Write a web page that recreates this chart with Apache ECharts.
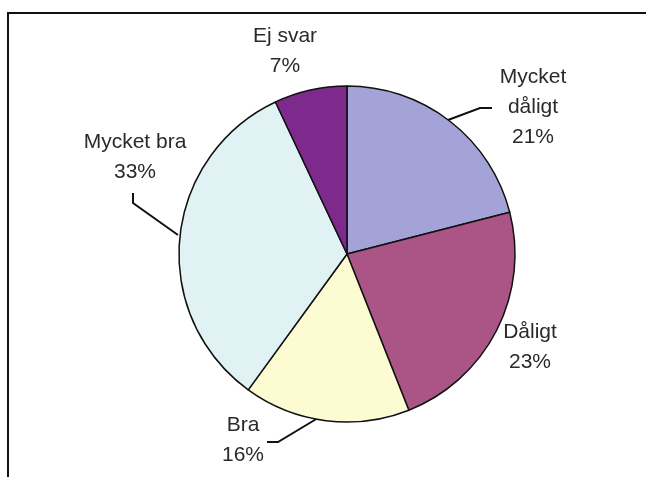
<!DOCTYPE html>
<html>
<head>
<meta charset="utf-8">
<script src="https://cdn.jsdelivr.net/npm/echarts@6/dist/echarts.min.js"></script>
<style>
html,body{margin:0;padding:0;background:#fff;}
#chart{width:646px;height:477px;}
</style>
</head>
<body>
<div id="chart"></div>
<script>
const categories = ['Mycket dåligt', 'Dåligt', 'Bra', 'Mycket bra', 'Ej svar'];
const values = [21, 23, 16, 33, 7];
const colors = ['#a3a3d8', '#aa5585', '#fdfbd2', '#e1f2f4', '#7e2a8c'];

// label layout (positions only)
const labelPos = [
  {x: 533, y: 107, line: [[448, 120], [480, 108], [492, 108]]},
  {x: 530, y: 347, line: null},
  {x: 243, y: 440, line: [[318, 418], [278, 442], [267, 442]]},
  {x: 135, y: 157, line: [[178, 235], [133, 203], [133, 193]]},
  {x: 285, y: 51, line: null}
];

const chart = echarts.init(document.getElementById('chart'), null, {renderer: 'canvas'});
chart.setOption({
  backgroundColor: '#ffffff',
  animation: false,
  graphic: [
    {type: 'line', shape: {x1: 7, y1: 13, x2: 646, y2: 13}, style: {stroke: '#111', lineWidth: 2}},
    {type: 'line', shape: {x1: 8, y1: 12, x2: 8, y2: 477}, style: {stroke: '#111', lineWidth: 2}}
  ],
  series: [{
    type: 'pie',
    center: [347, 254],
    radius: 168,
    startAngle: 90,
    clockwise: true,
    avoidLabelOverlap: false,
    itemStyle: {borderColor: '#111', borderWidth: 1.5},
    label: {
      show: true,
      formatter: p => (p.name === 'Mycket dåligt' ? 'Mycket\ndåligt' : p.name) + '\n' + p.value + '%',
      fontFamily: 'Liberation Sans, Arial, sans-serif',
      fontSize: 21,
      lineHeight: 30,
      color: '#2a2a2a',
      align: 'center'
    },
    labelLine: {show: true, lineStyle: {color: '#111', width: 2}},
    labelLayout: function (params) {
      const lp = labelPos[params.dataIndex];
      const o = {x: lp.x, y: lp.y, align: 'center', verticalAlign: 'middle'};
      if (lp.line) o.labelLinePoints = lp.line;
      return o;
    },
    data: categories.map((c, i) => ({
      name: c,
      value: values[i],
      itemStyle: {color: colors[i]},
      labelLine: {show: !!labelPos[i].line}
    })),
    emphasis: {disabled: true}
  }]
});
</script>
</body>
</html>
